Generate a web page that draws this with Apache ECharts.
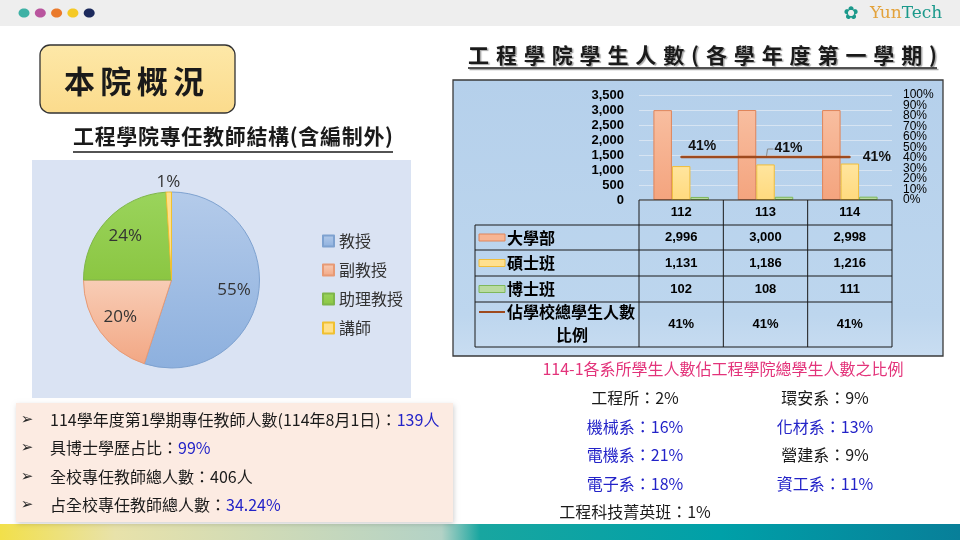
<!DOCTYPE html>
<html><head><meta charset="utf-8">
<script src="https://cdn.jsdelivr.net/npm/echarts@6/dist/echarts.min.js"></script>
<style>html,body{margin:0;padding:0;background:#fff}#c{width:960px;height:540px}</style>
</head><body><div id="c"></div>
<script>
// ---------- DATA ----------
const pieCategories = ['教授', '副教授', '助理教授', '講師'];
const pieValues = [55, 20, 24, 1];

const years = ['112', '113', '114'];
const undergrad = [2996, 3000, 2998];
const master = [1131, 1186, 1216];
const phd = [102, 108, 111];
const ratio = [41, 41, 41];
const seriesNames = ['大學部', '碩士班', '博士班', '佔學校總學生人數比例'];
const ratioRowLabel = ['佔學校總學生人數', '比例'];

const leftAxis = { min: 0, max: 3500, interval: 500 };
const rightAxis = { min: 0, max: 100, interval: 10 };

const facts = [
  ['114學年度第1學期專任教師人數(114年8月1日)：', '139人'],
  ['具博士學歷占比：', '99%'],
  ['全校專任教師總人數：406人', ''],
  ['占全校專任教師總人數：', '34.24%']
];

const deptTitle = '114-1各系所學生人數佔工程學院總學生人數之比例';
const deptLeftNames = ['工程所', '機械系', '電機系', '電子系', '工程科技菁英班'];
const deptLeftValues = [2, 16, 21, 18, 1];
const deptRightNames = ['環安系', '化材系', '營建系', '資工系'];
const deptRightValues = [9, 13, 9, 11];
const highlightedDepts = ['機械系', '電機系', '電子系', '化材系', '資工系'];

const pageTitle = '本院概況';
const pieTitle = '工程學院專任教師結構(含編制外)';
const barTitle = '工程學院學生人數(各學年度第一學期)';

// ---------- HELPERS ----------
const CJK = '"Noto Sans CJK TC","Noto Sans",sans-serif';
const mctx = document.createElement('canvas').getContext('2d');
function fitText(str, x0, x1, y, font, fill, extraStyle) {
  mctx.font = font;
  const chars = Array.from(str);
  const widths = chars.map(c => mctx.measureText(c).width);
  const sum = widths.reduce((a, b) => a + b, 0);
  const sp = chars.length > 1 ? (x1 - x0 - sum) / (chars.length - 1) : 0;
  let cx = x0; const out = [];
  chars.forEach((c, i) => {
    out.push({ type: 'text', x: cx, y: y, z: 20,
      style: Object.assign({ text: c, font: font, fill: fill, align: 'left', verticalAlign: 'middle' }, extraStyle || {}) });
    cx += widths[i] + sp;
  });
  return out;
}
const fmt = v => v.toLocaleString('en-US');
function txt(x, y, text, font, fill, align, extra) {
  return Object.assign({ type: 'text', x: x, y: y, z: 20,
    style: { text: text, font: font, fill: fill, align: align || 'left', verticalAlign: 'middle' } }, extra || {});
}
function line(x1, y1, x2, y2, color, w, z) {
  return { type: 'line', z: z || 15, shape: { x1, y1, x2, y2 }, style: { stroke: color, lineWidth: w } };
}

// ---------- LAYOUT ----------
const pieCx = 171.5, pieCy = 280, pieR = 88;
const plotL = 639, plotR = 892, plotT = 95, plotB = 200;
const catW = (plotR - plotL) / years.length;
const rowsY = [200, 225, 250, 276, 302, 347];
const tableL = 475;

const els = [];
// top bar
els.push({ type: 'rect', z: 0, shape: { x: 0, y: 0, width: 960, height: 26 }, style: { fill: '#eeeeee' } });
['#3eb1a5', '#b9559e', '#ea7a2c', '#f5c925', '#1c2a5c'].forEach((c, i) => {
  els.push({ type: 'ellipse', z: 1, shape: { cx: 24 + i * 16.3, cy: 13, rx: 5.5, ry: 4.6 }, style: { fill: c } });
});
els.push(txt(851, 14, '✿', '18px "DejaVu Sans"', '#1b998b', 'center'));
els.push({ type: 'text', x: 870, y: 14, z: 20, style: { text: '{a|Yun}{b|Tech}', verticalAlign: 'middle',
  rich: { a: { fill: '#e3a23b', font: '17px "DejaVu Serif"' }, b: { fill: '#1b998b', font: '17px "DejaVu Serif"' } } } });

// bottom band
els.push({ type: 'rect', z: 0, shape: { x: 0, y: 524, width: 960, height: 16 },
  style: { fill: { type: 'linear', x: 0, y: 0, x2: 1, y2: 0, colorStops: [
    { offset: 0, color: '#f2e04a' }, { offset: 0.12, color: '#e8e2aa' }, { offset: 0.46, color: '#b3d2c6' },
    { offset: 0.5, color: '#18a6a0' }, { offset: 0.75, color: '#00a0a8' }, { offset: 1, color: '#087f99' }] } } });

// 本院概況 box
els.push({ type: 'rect', z: 1, shape: { x: 40, y: 45, width: 195, height: 68, r: 10 },
  style: { fill: { type: 'linear', x: 0, y: 0, x2: 0, y2: 1, colorStops: [{ offset: 0, color: '#fde8a8' }, { offset: 1, color: '#fbdb8c' }] },
    stroke: '#333', lineWidth: 1.3 } });
els.push(...fitText(pageTitle, 64, 204, 81, 'bold 31px ' + CJK, '#1a1a1a'));

// pie title
els.push(...fitText(pieTitle, 73, 393, 136, 'bold 21px ' + CJK, '#1a1a1a'));
els.push(line(73, 152, 393, 152, '#1a1a1a', 1.5));
// pie box
els.push({ type: 'rect', z: 0, shape: { x: 32, y: 160, width: 379, height: 238 }, style: { fill: '#dae3f3' } });

// facts box
els.push({ type: 'rect', z: 1, shape: { x: 16, y: 403, width: 437, height: 119 },
  style: { fill: '#fcebe2', shadowColor: 'rgba(0,0,0,0.18)', shadowBlur: 5, shadowOffsetX: 1, shadowOffsetY: 2 } });
facts.forEach((f, i) => {
  const y = 420 + i * 28.4;
  els.push(txt(27, y, '➢', '15px "DejaVu Sans"', '#222', 'center'));
  els.push({ type: 'text', x: 50, y: y, z: 20, style: { text: '{a|' + f[0] + '}{b|' + f[1] + '}', verticalAlign: 'middle',
    rich: { a: { fill: '#1a1a1a', font: '16px ' + CJK }, b: { fill: '#2323c8', font: '16px ' + CJK } } } });
});

// bar title
els.push(...fitText(barTitle, 468, 937, 55, 'bold 21px ' + CJK, '#1a1a1a',
  { textShadowColor: 'rgba(0,0,0,0.35)', textShadowOffsetX: 1.5, textShadowOffsetY: 1.5, textShadowBlur: 1 }));
els.push({ type: 'line', z: 15, shape: { x1: 468, y1: 68, x2: 937, y2: 68 },
  style: { stroke: '#1a1a1a', lineWidth: 1.5, shadowColor: 'rgba(0,0,0,0.35)', shadowOffsetX: 1.5, shadowOffsetY: 1.5 } });
// chart box
els.push({ type: 'rect', z: 0, shape: { x: 453, y: 80, width: 490, height: 276 },
  style: { fill: { type: 'linear', x: 0, y: 0, x2: 0, y2: 1, colorStops: [{ offset: 0, color: '#b5d0eb' }, { offset: 0.85, color: '#bdd6ee' }, { offset: 1, color: '#c9ddf1' }] },
    stroke: '#3a3a3a', lineWidth: 1.3 } });

// data table
els.push(line(plotL, rowsY[0], plotR, rowsY[0], '#1a1a1a', 1));
for (let r = 1; r < rowsY.length; r++) els.push(line(tableL, rowsY[r], plotR, rowsY[r], '#1a1a1a', 1));
els.push(line(tableL, rowsY[1], tableL, rowsY[5], '#1a1a1a', 1));
for (let c = 0; c <= years.length; c++) els.push(line(plotL + c * catW, rowsY[0], plotL + c * catW, rowsY[5], '#1a1a1a', 1));
const numFont = 'bold 13px "Liberation Sans"';
years.forEach((y, i) => els.push(txt(plotL + (i + 0.5) * catW, (rowsY[0] + rowsY[1]) / 2, y, numFont, '#000', 'center')));
const tableSeries = [undergrad, master, phd];
const keyFill = ['#f7b594', '#ffe08f', '#b9dba0'];
const keyStroke = ['#e0855a', '#f0bd3a', '#7fb85a'];
tableSeries.forEach((arr, r) => {
  const yc = (rowsY[r + 1] + rowsY[r + 2]) / 2;
  arr.forEach((v, i) => els.push(txt(plotL + (i + 0.5) * catW, yc, fmt(v), numFont, '#000', 'center')));
  els.push({ type: 'rect', z: 15, shape: { x: 479, y: yc - 3.5, width: 26, height: 7 }, style: { fill: keyFill[r], stroke: keyStroke[r], lineWidth: 1 } });
  els.push(txt(507, yc, seriesNames[r], 'bold 16px ' + CJK, '#000'));
});
const lastYc = (rowsY[4] + rowsY[5]) / 2;
ratio.forEach((v, i) => els.push(txt(plotL + (i + 0.5) * catW, lastYc, v + '%', numFont, '#000', 'center')));
els.push(line(479, 312, 505, 312, '#9e4a1e', 2));
els.push(txt(507, 312, ratioRowLabel[0], 'bold 16px ' + CJK, '#000'));
els.push(txt(572, 335, ratioRowLabel[1], 'bold 16px ' + CJK, '#000', 'center'));
// leader line for middle ratio label
els.push({ type: 'polyline', z: 15, shape: { points: [[plotL + 1.5 * catW + 1, 156], [plotL + 1.5 * catW + 2, 149], [plotL + 1.5 * catW + 8, 149]] }, style: { stroke: '#8a8a8a', lineWidth: 1, fill: null } });

// department ratios
els.push(txt(723, 369, deptTitle, '16px ' + CJK, '#e3337a', 'center'));
const deptColor = n => highlightedDepts.indexOf(n) >= 0 ? '#2323c8' : '#1a1a1a';
deptLeftNames.forEach((n, i) => els.push(txt(635, 398 + i * 28.6, n + '：' + deptLeftValues[i] + '%', '16px ' + CJK, deptColor(n), 'center')));
deptRightNames.forEach((n, i) => els.push(txt(825, 398 + i * 28.6, n + '：' + deptRightValues[i] + '%', '16px ' + CJK, deptColor(n), 'center')));

// ---------- PIE STYLE ----------
const pieFill = [
  { type: 'linear', x: 0, y: 0, x2: 0, y2: 1, colorStops: [{ offset: 0, color: '#b4cbea' }, { offset: 1, color: '#8db0de' }] },
  { type: 'linear', x: 0, y: 0, x2: 0, y2: 1, colorStops: [{ offset: 0, color: '#f8cdb6' }, { offset: 1, color: '#f2a784' }] },
  { type: 'linear', x: 0, y: 0, x2: 0, y2: 1, colorStops: [{ offset: 0, color: '#9ad45c' }, { offset: 1, color: '#8bc642' }] },
  '#ffe08a'
];
const pieBorder = ['#7ea2d0', '#e79a75', '#7fb64a', '#f0c030'];
const pieTotal = pieValues.reduce((a, b) => a + b, 0);

const rightLabel = { margin: 11, fontSize: 12, color: '#000', fontFamily: 'Liberation Sans', formatter: '{value}%', hideOverlap: false };

// ---------- CHART ----------
const chart = echarts.init(document.getElementById('c'), null, { renderer: 'canvas' });
chart.setOption({
  animation: false,
  graphic: { elements: els },
  legend: {
    data: pieCategories, orient: 'vertical', left: 317, top: 227, itemWidth: 11, itemHeight: 11, itemGap: 11,
    icon: 'rect', selectedMode: false,
    textStyle: { fontSize: 16, color: '#333', fontFamily: 'Noto Sans CJK TC', lineHeight: 18 }
  },
  grid: { left: plotL, right: 960 - plotR, top: plotT, bottom: 540 - plotB, containLabel: false },
  xAxis: { type: 'category', data: years, axisLine: { show: false }, axisTick: { show: false }, axisLabel: { show: false } },
  yAxis: [
    { type: 'value', min: leftAxis.min, max: leftAxis.max, interval: leftAxis.interval, z: 3,
      axisLabel: { fontWeight: 'bold', fontSize: 13, color: '#000', margin: 15, fontFamily: 'Liberation Sans', formatter: v => fmt(v), showMinLabel: true, showMaxLabel: true },
      splitLine: { lineStyle: { color: '#d7e4f2', width: 1 } }, axisLine: { show: false }, axisTick: { show: false } },
    { type: 'value', min: rightAxis.min, max: rightAxis.max, interval: rightAxis.interval, position: 'right', z: 3,
      axisLabel: Object.assign({ showMinLabel: false, showMaxLabel: false }, rightLabel),
      splitLine: { show: false }, axisLine: { show: false }, axisTick: { show: false } },
    { type: 'value', min: rightAxis.min, max: rightAxis.max, interval: rightAxis.max - rightAxis.min, position: 'right', z: 3,
      axisLabel: Object.assign({ showMinLabel: true, showMaxLabel: true }, rightLabel),
      splitLine: { show: false }, axisLine: { show: false }, axisTick: { show: false } }
  ],
  series: [
    { name: seriesNames[0], type: 'bar', data: undergrad, barWidth: 18.5, barGap: '0%', z: 5,
      itemStyle: { color: { type: 'linear', x: 0, y: 0, x2: 0, y2: 1, colorStops: [{ offset: 0, color: '#f8bea0' }, { offset: 1, color: '#f4a47e' }] }, borderColor: '#e0855a', borderWidth: 1 } },
    { name: seriesNames[1], type: 'bar', data: master, barWidth: 18.5, barGap: '0%', z: 5,
      itemStyle: { color: { type: 'linear', x: 0, y: 0, x2: 0, y2: 1, colorStops: [{ offset: 0, color: '#ffe59e' }, { offset: 1, color: '#ffda7e' }] }, borderColor: '#f0bd3a', borderWidth: 1 } },
    { name: seriesNames[2], type: 'bar', data: phd, barWidth: 18.5, barGap: '0%', z: 5,
      itemStyle: { color: '#b9dba0', borderColor: '#7fb85a', borderWidth: 1 } },
    { name: seriesNames[3], type: 'line', yAxisIndex: 1, z: 6, symbol: 'circle', symbolSize: 2, showSymbol: true,
      itemStyle: { color: '#9e4a1e', borderWidth: 0 },
      lineStyle: { color: '#9e4a1e', width: 2.5 },
      data: ratio.map((v, i) => ({ value: v, label: [
        { show: true, position: 'top', offset: [21, 2] },
        { show: true, position: 'top', offset: [23, 4] },
        { show: true, position: 'right', distance: 12 }][i] })),
      label: { show: true, formatter: p => p.value + '%', fontWeight: 'bold', fontSize: 14, color: '#111', fontFamily: 'Liberation Sans' } },
    { name: 'pie', type: 'pie', center: [pieCx, pieCy], radius: pieR, startAngle: 90, clockwise: true, z: 5,
      data: pieCategories.map((n, i) => ({ name: n, value: pieValues[i], itemStyle: { color: pieFill[i], borderColor: pieBorder[i], borderWidth: 1 } })),
      label: { show: true, position: 'inside', formatter: p => p.value + '%', fontSize: 17, color: '#333', fontFamily: 'Open Sans' },
      labelLine: { show: false }, emphasis: { disabled: true },
      labelLayout: function (params) {
        const i = params.dataIndex;
        let cum = 0; for (let k = 0; k < i; k++) cum += pieValues[k];
        const frac = (cum + pieValues[i] / 2) / pieTotal;
        const th = frac * 2 * Math.PI;
        const k = pieValues[i] / pieTotal < 0.05 ? 1.11 : 0.72;
        return { x: pieCx + pieR * k * Math.sin(th), y: pieCy - pieR * k * Math.cos(th), align: 'center', verticalAlign: 'middle' };
      } }
  ]
});
</script></body></html>
